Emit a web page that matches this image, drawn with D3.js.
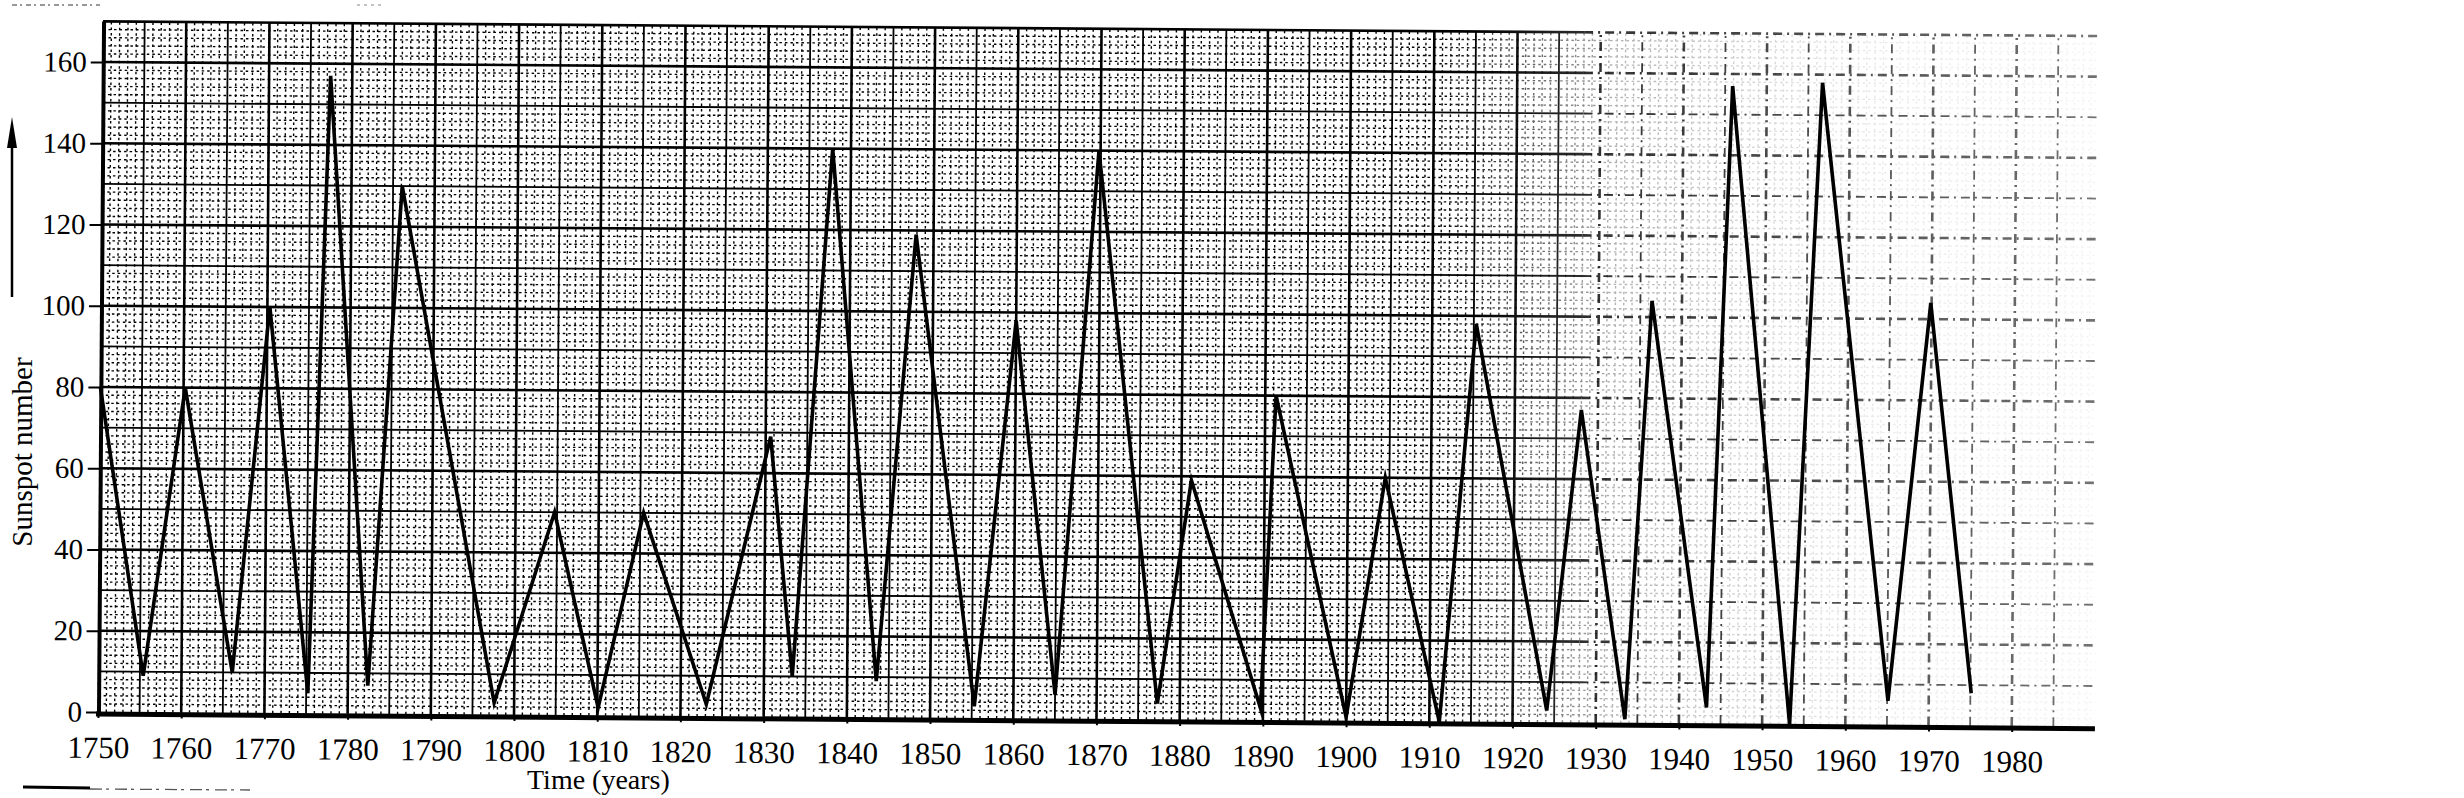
<!DOCTYPE html>
<html>
<head>
<meta charset="utf-8">
<script src="https://cdn.jsdelivr.net/npm/d3@7"></script>
<style>
  body { margin: 0; background: #fff; }
  svg { display: block; font-family: "Liberation Serif", "Times New Roman", serif; }
</style>
</head>
<body>
<div id="chart"></div>
<script>
var width = 2464, height = 798;

// turning points of the curve (maxima / minima)
var years = [1750, 1755.4, 1760.2, 1766.1, 1770.3, 1775.2, 1777.4, 1782.4, 1786.1, 1797.6,
             1804.7, 1810.1, 1815.4, 1823.1, 1830.6, 1833.4, 1837.8, 1843.5, 1847.9, 1855.3,
             1860.0, 1865.0, 1869.8, 1877.3, 1881.2, 1889.7, 1891.3, 1900.0, 1904.5, 1911.2,
             1915.3, 1924.1, 1928.0, 1933.5, 1936.4, 1943.3, 1945.9, 1953.3, 1956.7, 1965.1,
             1969.9, 1975.1];
var sunspots = [80, 9, 80, 10, 100, 5, 157, 7, 130, 3,
                50, 2, 50, 3, 69, 10, 140, 9, 119, 3,
                98, 6, 140, 4, 59, 3, 80, 1, 60, 0,
                98, 3, 77, 1, 104, 4, 157, 0, 158, 6,
                104, 8];

var xTickLabels = [1750, 1760, 1770, 1780, 1790, 1800, 1810, 1820, 1830, 1840, 1850, 1860,
                   1870, 1880, 1890, 1900, 1910, 1920, 1930, 1940, 1950, 1960, 1970, 1980];
var yTickLabels = [0, 20, 40, 60, 80, 100, 120, 140, 160];

var x = d3.scaleLinear().domain([1750, 1990]).range([98, 2095]);
var y = d3.scaleLinear().domain([0, 170]).range([712, 21.4]);

var svg = d3.select("#chart")
            .append("svg")
            .attr("width", width)
            .attr("height", height)
            .attr("viewBox", [0, 0, width, height]);

svg.append("rect").attr("width", width).attr("height", height).attr("fill", "#fff");

var defs = svg.append("defs");

// the printed grid fades out towards the right of the scan
function fadeMask(id, stops) {
    var grad = defs.append("linearGradient")
        .attr("id", id + "Grad")
        .attr("gradientUnits", "userSpaceOnUse")
        .attr("x1", x(1750)).attr("x2", x(1990))
        .attr("y1", 0).attr("y2", 0);
    stops.forEach(function(s) {
        grad.append("stop")
            .attr("offset", (s[0] - 1750) / 240)
            .attr("stop-color", "#fff")
            .attr("stop-opacity", s[1]);
    });
    defs.append("mask")
        .attr("id", id)
        .attr("maskUnits", "userSpaceOnUse")
        .attr("x", 0).attr("y", 0).attr("width", width).attr("height", height)
        .append("rect")
        .attr("x", 0).attr("y", 0).attr("width", width).attr("height", height)
        .attr("fill", "url(#" + id + "Grad)");
}
fadeMask("fadeMinor", [[1750, 1], [1910, 1], [1922, 0.6], [1932, 0.3], [1950, 0.15], [1965, 0.08], [1990, 0.04]]);
fadeMask("fadeMajor", [[1750, 1], [1915, 1], [1930, 0.8], [1990, 0.55]]);

// whole sheet is scanned slightly askew
var g = svg.append("g").attr("transform", "rotate(0.42," + x(1750) + "," + y(0) + ")");

var minorG = g.append("g").attr("mask", "url(#fadeMinor)");
var majorG = g.append("g").attr("mask", "url(#fadeMajor)");

var allYears = d3.range(1751, 1990, 1);
var allVals = d3.range(2, 170, 2);
var split = 1928;   // beyond this the printed lines break up into dashes
function dashFor(yr) { return yr >= split ? "9,5,2,5" : null; }

// 1-year and 2-unit lines, dotted
minorG.selectAll("line.vmin")
  .data(allYears.filter(function(d) { return d % 5 !== 0; }))
  .enter().append("line")
  .attr("x1", function(d) { return x(d); }).attr("x2", function(d) { return x(d); })
  .attr("y1", y(0)).attr("y2", y(170))
  .attr("stroke", "#000").attr("stroke-width", 1.4)
  .attr("stroke-dasharray", "2.5,3");

minorG.selectAll("line.hmin")
  .data(allVals.filter(function(d) { return d % 10 !== 0; }))
  .enter().append("line")
  .attr("x1", x(1750)).attr("x2", x(1990))
  .attr("y1", function(d) { return y(d); }).attr("y2", function(d) { return y(d); })
  .attr("stroke", "#000").attr("stroke-width", 1.4)
  .attr("stroke-dasharray", "2.5,3");

// vertical 5-year (medium) and 10-year (major) lines
majorG.selectAll("line.vgrid")
  .data(allYears.filter(function(d) { return d % 5 === 0; }))
  .enter().append("line")
  .attr("x1", function(d) { return x(d); }).attr("x2", function(d) { return x(d); })
  .attr("y1", y(0)).attr("y2", y(170))
  .attr("stroke", "#000")
  .attr("stroke-width", function(d) { return d % 10 === 0 ? 2.6 : 1.8; })
  .attr("stroke-dasharray", function(d) { return dashFor(d); });

// horizontal 10-unit (medium) and 20-unit (major) lines, solid then dashed
var hLines = allVals.filter(function(d) { return d % 10 === 0; }).concat([170]);
var hSegs = [];
hLines.forEach(function(v) {
    hSegs.push({v: v, a: 1750, b: split, dash: null});
    hSegs.push({v: v, a: split, b: 1990, dash: "9,5,2,5"});
});
majorG.selectAll("line.hgrid")
  .data(hSegs)
  .enter().append("line")
  .attr("x1", function(d) { return x(d.a); }).attr("x2", function(d) { return x(d.b); })
  .attr("y1", function(d) { return y(d.v); }).attr("y2", function(d) { return y(d.v); })
  .attr("stroke", "#000")
  .attr("stroke-width", function(d) { return (d.v % 20 === 0 || d.v === 170) ? 2.6 : 1.8; })
  .attr("stroke-dasharray", function(d) { return d.dash; });

// axes
var yAxis = d3.axisLeft(y).tickValues(yTickLabels).tickSize(12).tickPadding(4);
var yg = g.append("g").attr("transform", "translate(" + x(1750) + ",0)").call(yAxis);
yg.select(".domain").remove();
yg.selectAll(".tick line").attr("stroke", "#000").attr("stroke-width", 2);
yg.selectAll(".tick text")
  .attr("font-family", "'Liberation Serif', serif")
  .attr("font-size", 29).attr("fill", "#000");

var xAxis = d3.axisBottom(x).tickValues(xTickLabels).tickSize(6).tickPadding(18)
              .tickFormat(d3.format("d"));
var xg = g.append("g").attr("transform", "translate(0," + y(0) + ")").call(xAxis);
xg.select(".domain").remove();
xg.selectAll(".tick line").attr("stroke", "#000").attr("stroke-width", 2);
xg.selectAll(".tick text")
  .attr("font-family", "'Liberation Serif', serif")
  .attr("font-size", 31).attr("fill", "#000");

g.append("line")
  .attr("x1", x(1750) - 2).attr("x2", x(1990))
  .attr("y1", y(0) + 2).attr("y2", y(0) + 2)
  .attr("stroke", "#000").attr("stroke-width", 5);

g.append("line")
  .attr("x1", x(1750) + 1).attr("x2", x(1750) + 1)
  .attr("y1", y(0) + 2).attr("y2", y(170))
  .attr("stroke", "#000").attr("stroke-width", 4);

// the sunspot curve
var line = d3.line()
    .x(function(d) { return x(d[0]); })
    .y(function(d) { return y(d[1]); });

g.append("path")
  .datum(d3.zip(years, sunspots))
  .attr("d", line)
  .attr("fill", "none")
  .attr("stroke", "#000")
  .attr("stroke-width", 3.6)
  .attr("stroke-linejoin", "miter")
  .attr("stroke-miterlimit", 6);

// axis titles
svg.append("text")
  .attr("transform", "translate(32,452) rotate(-90)")
  .attr("text-anchor", "middle")
  .attr("font-size", 29)
  .attr("fill", "#000")
  .text("Sunspot number");

svg.append("line")
  .attr("x1", 12).attr("x2", 12).attr("y1", 297).attr("y2", 140)
  .attr("stroke", "#000").attr("stroke-width", 2.5);
svg.append("path")
  .attr("d", "M12,117 L7,148 L17,148 Z")
  .attr("fill", "#000");

svg.append("text")
  .attr("x", 527).attr("y", 789)
  .attr("font-size", 28)
  .attr("fill", "#000")
  .text("Time (years)");

// scan smudges
svg.append("line")
  .attr("x1", 23).attr("x2", 90).attr("y1", 787).attr("y2", 788)
  .attr("stroke", "#000").attr("stroke-width", 3);
svg.append("line")
  .attr("x1", 90).attr("x2", 250).attr("y1", 789).attr("y2", 790)
  .attr("stroke", "#555").attr("stroke-width", 1.3)
  .attr("stroke-dasharray", "12,4,3,6");
svg.append("line")
  .attr("x1", 12).attr("x2", 100).attr("y1", 5).attr("y2", 5)
  .attr("stroke", "#777").attr("stroke-width", 1.5)
  .attr("stroke-dasharray", "5,3,2,4");
svg.append("line")
  .attr("x1", 357).attr("x2", 382).attr("y1", 5).attr("y2", 5)
  .attr("stroke", "#888").attr("stroke-width", 1.2)
  .attr("stroke-dasharray", "3,4");
</script>
</body>
</html>
